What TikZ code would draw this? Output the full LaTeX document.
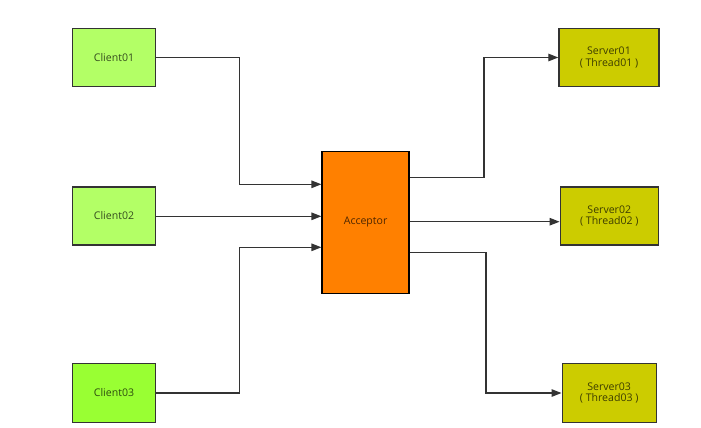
\documentclass[tikz,border=0pt]{standalone}
\usepackage{fontspec}
\setmainfont{Open Sans}
\usetikzlibrary{arrows.meta}
\definecolor{cliA}{HTML}{B3FF66}
\definecolor{cliB}{HTML}{99FF33}
\definecolor{accc}{HTML}{FF8000}
\definecolor{srvc}{HTML}{CCCC00}
\definecolor{edgec}{HTML}{333333}
\tikzset{
  box/.style={draw=edgec, line width=1.4bp, inner sep=0pt, align=center,
    font=\fontsize{10.6}{12}\selectfont, text=black, text opacity=0.7},
  client/.style={box, fill=cliA, minimum width=83bp, minimum height=58bp},
  server/.style={box, fill=srvc, minimum height=58bp},
  conn/.style={draw=edgec, line width=1.3bp, -{Triangle[length=10bp,width=7.5bp]}},
}
\begin{document}
\begin{tikzpicture}[x=1bp,y=-1bp]
\useasboundingbox (0,0) rectangle (701,427);
\node[client] (c1) at (114,57.5) {Client01};
\node[client] (c2) at (114,216) {Client02};
\node[client, fill=cliB, minimum height=59bp] (c3) at (114,393) {Client03};
\node[box, fill=accc, draw=black, minimum width=87bp, minimum height=142bp] (acc) at (365.6,222.4) {Acceptor};
\node[server, minimum width=100bp] (s1) at (609,57.5) {Server01\\( Thread01 )};
\node[server, minimum width=98bp] (s2) at (609.3,216) {Server02\\( Thread02 )};
\node[server, minimum width=94bp, minimum height=59bp] (s3) at (609.2,393) {Server03\\( Thread03 )};
\coordinate (j1) at (239.3,184.3);
\coordinate (j3) at (239.3,247.3);
\coordinate (k1) at (484,177.7);
\coordinate (k2) at (484,221.7);
\coordinate (k3) at (486,252.3);
\draw[conn] (c1.east) -| (j1) -- (j1 -| acc.west);
\draw[conn] ([yshift=-0.3bp]c2.east) -- ([yshift=-0.3bp]c2.east -| acc.west);
\draw[conn] (c3.east) -| (j3) -- (j3 -| acc.west);
\draw[conn] (k1 -| acc.east) -- (k1) |- (s1.west);
\draw[conn] (k2 -| acc.east) -- (k2 -| s2.west);
\draw[conn] (k3 -| acc.east) -- (k3) |- (s3.west);
\end{tikzpicture}
\end{document}
